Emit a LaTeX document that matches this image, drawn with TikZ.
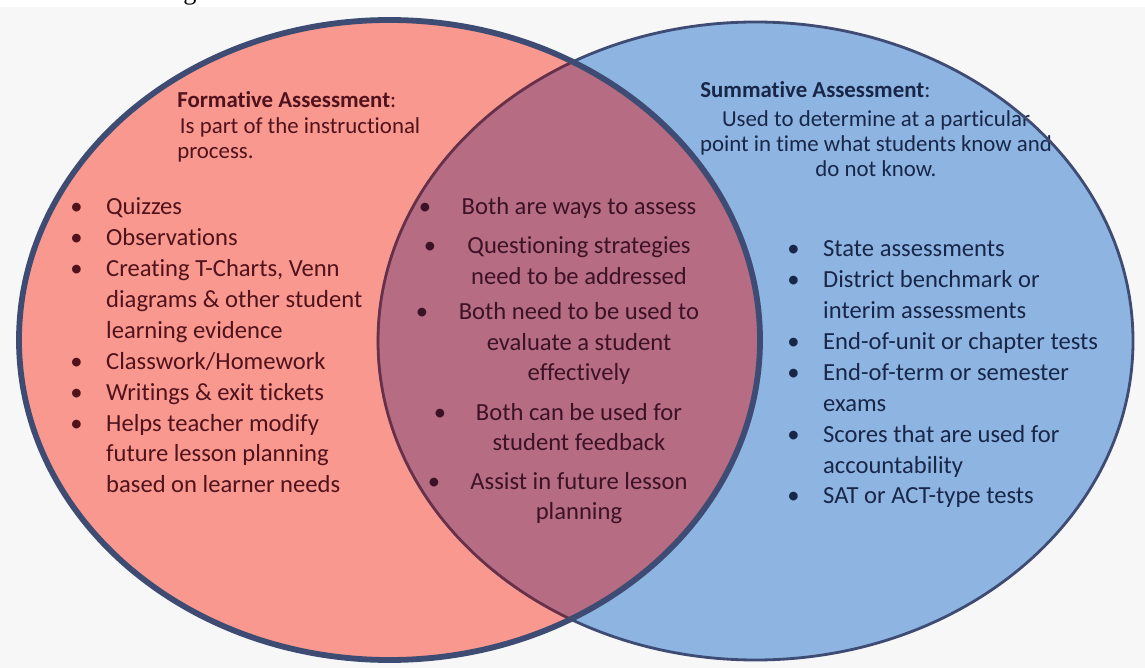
\documentclass[tikz,border=0pt]{standalone}
\usepackage{fontspec}
\setmainfont{Carlito}[Ligatures={NoCommon}]
\newfontfamily\fragfont{Liberation Serif}

\definecolor{pagegray}{RGB}{247,247,247}
\definecolor{formpink}{RGB}{248,152,142}
\definecolor{sumblue}{RGB}{142,180,226}
\definecolor{overlapmauve}{RGB}{182,108,130}
\definecolor{rimnavy}{RGB}{62,76,116}
\definecolor{rimmaroon}{RGB}{118,42,64}
\definecolor{leftink}{RGB}{80,18,28}
\definecolor{midink}{RGB}{60,18,38}
\definecolor{rightink}{RGB}{24,38,72}

% bullet followed by its text, and the hanging indent of continued lines
\newlength\bulletgap \setlength\bulletgap{20.4pt}
\newcommand\bul[1]{\makebox[\bulletgap][l]{\textbullet}#1}
\newcommand\hang[1]{\hspace*{\bulletgap}#1}

\tikzset{
  body/.style={inner sep=0pt, font=\fontsize{14}{17.57}\selectfont},
  midbody/.style={inner sep=0pt, font=\fontsize{14}{17.3}\selectfont, text=midink},
  head/.style={inner sep=0pt, font=\fontsize{13}{14.2}\selectfont},
  listblock/.style={body, anchor=base west},
  midblock/.style={midbody, anchor=base},
  middot/.style={midbody, anchor=base},
}

\begin{document}
\begin{tikzpicture}[x=0.02cm, y=-0.02cm]
\useasboundingbox (0,0) rectangle (1145,668);
\fill[white] (0,0) rectangle (1145,668);
\fill[pagegray] (0,7) rectangle (1145,668);

% descender of a letter cut off by the top edge
\node[font=\fragfont\fontsize{15}{15}\selectfont, anchor=base, inner sep=0pt] (capfrag) at (190,0) {g};

% the two sets and their overlap
\fill[formpink] (389.5,340) ellipse [x radius=370.5, y radius=320];
\fill[sumblue] (755.5,341) ellipse [x radius=377.5, y radius=319];
\begin{scope}
  \clip (389.5,340) ellipse [x radius=370.5, y radius=320];
  \fill[overlapmauve] (755.5,341) ellipse [x radius=377.5, y radius=319];
\end{scope}

% formative side
\node[head, anchor=base west, text=leftink] (fhead) at (177,108) {\textbf{Formative Assessment}:};
\node[head, anchor=base west, text=leftink] (fsub) at (177,134)
  {\parbox[t]{200pt}{\hspace*{1.5pt}Is part of the instructional\\process.}};
\node[listblock, text=leftink] (flist) at (70,215) {\parbox[t]{200pt}{%
  \bul{Quizzes}\\
  \bul{Observations}\\
  \bul{Creating T-Charts, Venn}\\
  \hang{diagrams \& other student}\\
  \hang{learning evidence}\\
  \bul{Classwork/Homework}\\
  \bul{Writings \& exit tickets}\\
  \bul{Helps teacher modify}\\
  \hang{future lesson planning}\\
  \hang{based on learner needs}}};

% shared items
\node[middot] (b1) at (425,215) {\textbullet};
\node[midblock] (m1) at (579,215) {\parbox[t]{160pt}{\centering Both are ways to assess}};
\node[middot] (b2) at (430,254) {\textbullet};
\node[midblock] (m2) at (579,254) {\parbox[t]{160pt}{\centering Questioning strategies\\need to be addressed}};
\node[middot] (b3) at (422,320) {\textbullet};
\node[midblock] (m3) at (579,320) {\parbox[t]{160pt}{\centering Both need to be used to\\evaluate a student\\effectively}};
\node[middot] (b4) at (440,420) {\textbullet};
\node[midblock] (m4) at (579,420) {\parbox[t]{160pt}{\centering Both can be used for\\student feedback}};
\node[middot] (b5) at (434,489) {\textbullet};
\node[midblock] (m5) at (579,489) {\parbox[t]{160pt}{\centering Assist in future lesson\\planning}};

% summative side
\node[head, anchor=base west, text=rightink] (shead) at (700,98) {\textbf{Summative Assessment}:};
\node[head, anchor=base, text=rightink] (ssub) at (876,127)
  {\parbox[t]{220pt}{\centering Used to determine at a particular\\point in time what students know and\\do not know.}};
\node[listblock, text=rightink] (slist) at (787,257) {\parbox[t]{200pt}{%
  \bul{State assessments}\\
  \bul{District benchmark or}\\
  \hang{interim assessments}\\
  \bul{End-of-unit  or chapter tests}\\
  \bul{End-of-term  or semester}\\
  \hang{exams}\\
  \bul{Scores that are used for}\\
  \hang{accountability}\\
  \bul{SAT or ACT-type tests}}};

% outlines
\draw[rimnavy, line width=1.6pt] (755.5,341) ellipse [x radius=377.5, y radius=319];
\begin{scope}
  \clip (389.5,340) ellipse [x radius=370.5, y radius=320];
  \draw[rimmaroon, line width=1.2pt] (755.5,341) ellipse [x radius=377.5, y radius=319];
\end{scope}
\draw[rimnavy, line width=3.3pt] (389.5,340) ellipse [x radius=370.5, y radius=320];
\end{tikzpicture}
\end{document}
